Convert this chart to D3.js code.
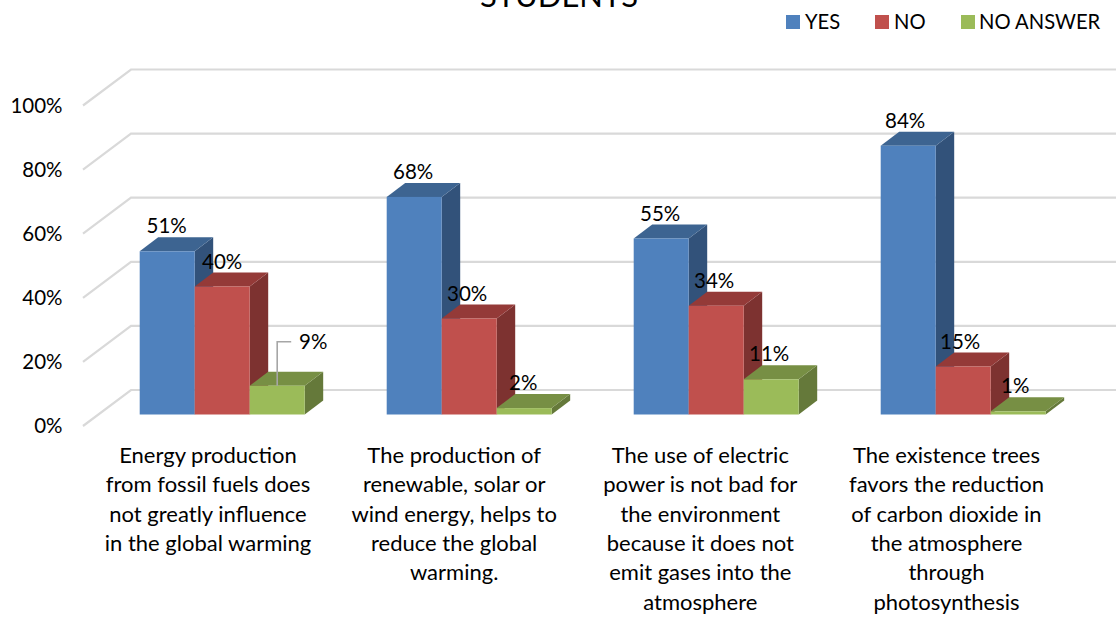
<!DOCTYPE html>
<html><head><meta charset="utf-8">
<script src="https://cdn.jsdelivr.net/npm/d3@7"></script>
<style>html,body{margin:0;padding:0;background:#fff}svg{display:block}text{font-family:Lato,"Open Sans",sans-serif;fill:#000}</style>
</head><body><svg id="c" width="1116" height="619"></svg>
<script>
const title = "STUDENTS";
const seriesNames = ["YES","NO","NO ANSWER"];
const categories = [
 ["Energy production","from fossil fuels does","not greatly influence","in the global warming"],
 ["The production of","renewable, solar or","wind energy, helps to","reduce the global","warming."],
 ["The use of electric","power is not bad for","the environment","because it does not","emit gases into the","atmosphere"],
 ["The existence trees","favors the reduction","of carbon dioxide in","the atmosphere","through","photosynthesis"]
];
const yesValues = [51,68,55,84];
const noValues = [40,30,34,15];
const noAnswerValues = [9,2,11,1];
const ticks = [0,20,40,60,80,100];
const frontColors = ["#4f81bd","#c0504d","#9bbb59"];
const topColors = ["#3d6491","#943a38","#778f44"];
const sideColors = ["#32527a","#7d3230","#65793a"];
const labelShiftX = [[-0.5,0,0],[-1,-2,-1],[-1,-2,-2],[-3,-3,-3]];

const svg = d3.select("#c");
const all = [yesValues,noValues,noAnswerValues];
const yBar = d3.scaleLinear().domain([0,100]).range([414.5,94.5]);
const yFloor = d3.scaleLinear().domain([0,100]).range([426,105.5]);
const x0 = d3.scaleBand().domain(d3.range(4)).range([98.7,1086.7]);
const xCat = d3.scalePoint().domain(d3.range(4)).range([208,946.5]);
const bw = 55;
const barX = (c,s)=> x0(c)+x0.bandwidth()/2 - 1.5*bw + s*bw;
const gDx=48, gDy=36, bDx=18.5, bDy=14;

// gridlines
svg.append("g").selectAll("path").data(ticks).join("path")
  .attr("d",t=>`M83,${yFloor(t)}L${83+gDx},${yFloor(t)-gDy}H1116`)
  .attr("fill","none").attr("stroke","#d9d9d9").attr("stroke-width",2.2);

// tick labels
svg.append("g").selectAll("text").data(ticks).join("text")
  .attr("x",62.5).attr("y",yFloor).attr("dy","0.35em").attr("text-anchor","end")
  .attr("font-size",20.5).text(t=>t+"%");

// bars
const bars = svg.append("g");
categories.forEach((_,c)=>{
  all.forEach((vals,s)=>{
    const v=vals[c], x=barX(c,s), top=yBar(v), base=yBar(0);
    const g=bars.append("g");
    g.append("path").attr("d",`M${x+bw},${top}l${bDx},${-bDy}V${base-bDy}l${-bDx},${bDy}Z`).attr("fill",sideColors[s]);
    g.append("path").attr("d",`M${x},${top}l${bDx},${-bDy}h${bw}l${-bDx},${bDy}Z`).attr("fill",topColors[s]);
    g.append("rect").attr("x",x).attr("y",top).attr("width",bw).attr("height",base-top).attr("fill",frontColors[s]);
  });
});

// leader line for the 9% label
{
  const x=barX(0,2)+bw/2, top=yBar(noAnswerValues[0]);
  svg.append("path").attr("d",`M${x},${top}V${top-44}H${x+14}`)
    .attr("fill","none").attr("stroke","#a6a6a6").attr("stroke-width",1.6);
}

// data labels
categories.forEach((_,c)=>{
  all.forEach((vals,s)=>{
    const v=vals[c];
    const lead = c===0&&s===2;
    svg.append("text")
      .attr("x",barX(c,s)+bw/2+labelShiftX[c][s]+(lead?36:0))
      .attr("y",yBar(v)-(lead?43.5:25))
      .attr("dy","0.35em").attr("text-anchor","middle").attr("font-size",20.5)
      .text(v+"%");
  });
});

// category labels
svg.append("g").selectAll("text").data(categories).join("text")
  .attr("text-anchor","middle").attr("font-size",22)
  .each(function(lines,c){
    d3.select(this).selectAll("tspan").data(lines).join("tspan")
      .attr("x",xCat(c)).attr("y",(d,i)=>455.3+i*29.3).attr("dy","0.35em").text(d=>d);
  });

// title
svg.append("text").attr("x",559).attr("y",7).attr("text-anchor","middle").attr("font-size",31).text(title);

// legend
const legSq=[786,875,961], legTx=[805,894,979];
seriesNames.forEach((n,i)=>{
  svg.append("rect").attr("x",legSq[i]).attr("y",15).attr("width",14).attr("height",14).attr("fill",frontColors[i]);
  svg.append("text").attr("x",legTx[i]).attr("y",22).attr("dy","0.35em").attr("font-size",20.2).text(n);
});
</script></body></html>
